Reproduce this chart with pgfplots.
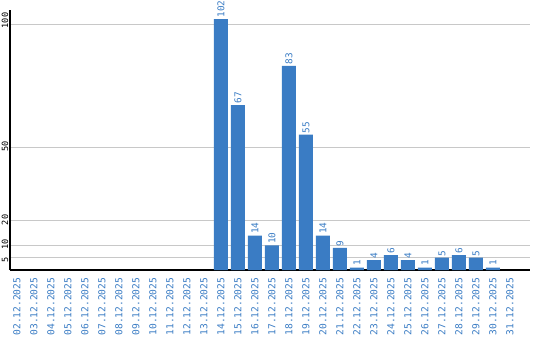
\documentclass[border=0pt]{standalone}
\usepackage{fontspec}
\setmainfont{DejaVu Sans Mono}
\usepackage{pgfplots}
\pgfplotsset{compat=1.18}
\definecolor{barblue}{HTML}{3A7CC4}
\definecolor{gridgray}{HTML}{C8C8C8}
\begin{document}
\begin{tikzpicture}
\useasboundingbox (0,0) rectangle (540pt,340pt);
\begin{axis}[
  at={(10pt,70pt)}, anchor=south west,
  scale only axis, width=520pt, height=260pt,
  xmin=-0.41, xmax=30.18, ymin=0, ymax=105.7,
  axis x line*=bottom, axis y line*=left,
  axis line style={black, line width=1.2pt, -},
  ytick={5,10,20,50,100},
  ymajorgrids, grid style={gridgray, line width=0.8pt},
  major tick length=0pt,
  /pgf/number format/assume math mode=true,
  yticklabel style={yshift=-5pt, xshift=-1pt, rotate=90, anchor=south west, font=\fontsize{8.6}{8.6}\selectfont, black, inner sep=0.5pt},
  xtick={0,...,29},
  xticklabels={02.12.2025,03.12.2025,04.12.2025,05.12.2025,06.12.2025,07.12.2025,08.12.2025,09.12.2025,10.12.2025,11.12.2025,12.12.2025,13.12.2025,14.12.2025,15.12.2025,16.12.2025,17.12.2025,18.12.2025,19.12.2025,20.12.2025,21.12.2025,22.12.2025,23.12.2025,24.12.2025,25.12.2025,26.12.2025,27.12.2025,28.12.2025,29.12.2025,30.12.2025,31.12.2025},
  xticklabel style={yshift=-6.5pt, rotate=90, anchor=east, font=\fontsize{9.6}{9.6}\selectfont, text=barblue, inner sep=1pt},
  clip=false,
]
\addplot[ybar, bar width=14pt, fill=barblue, draw=none,
  nodes near coords,
  every node near coord/.append style={rotate=90, anchor=west, font=\fontsize{9.4}{9.4}\selectfont, text=barblue, inner sep=1.5pt},
] coordinates {
  (12,102) (13,67) (14,14) (15,10) (16,83) (17,55) (18,14) (19,9) (20,1)
  (21,4) (22,6) (23,4) (24,1) (25,5) (26,6) (27,5) (28,1)
};
\end{axis}
\end{tikzpicture}
\end{document}
